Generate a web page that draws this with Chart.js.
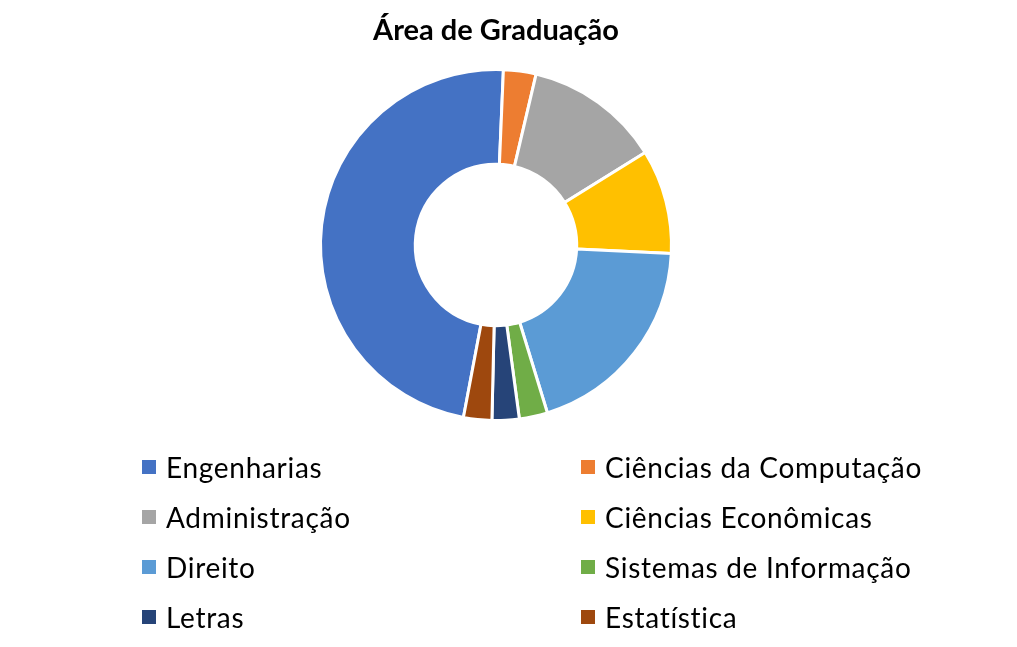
<!DOCTYPE html>
<html>
<head>
<meta charset="utf-8">
<script src="https://cdn.jsdelivr.net/npm/chart.js@4.4.1/dist/chart.umd.min.js"></script>
<style>
	html, body { margin: 0; padding: 0; background: #fff; }
	#wrap { position: relative; width: 1017px; height: 647px; }
	#grafico { position: absolute; left: 0; top: 0; }
	.item { position: absolute; height: 30px; line-height: 30px; font-family: Lato, sans-serif; font-size: 28px; letter-spacing: 0.7px; color: #000; white-space: nowrap; }
	.item span { position: absolute; top: 8px; width: 14px; height: 14px; }
	.item b { position: absolute; font-weight: normal; }
</style>
</head>
<body>
<div id="wrap">
	<canvas id="grafico" width="1017" height="647"></canvas>
</div>
<script>
var areas   = ['Engenharias', 'Ciências da Computação', 'Administração', 'Ciências Econômicas', 'Direito', 'Sistemas de Informação', 'Letras', 'Estatística'];
var valores = [47.7, 3.0, 12.5, 9.6, 19.5, 2.6, 2.5, 2.6];
var cores   = ['#4472C4', '#ED7D31', '#A5A5A5', '#FFC000', '#5B9BD5', '#70AD47', '#264478', '#9E480E'];

// legenda em duas colunas, como no Excel
var colX = [142, 581];
var linhaY = [467, 517, 567, 617];

for (var i = 0; i < areas.length; i++) {
	var d = document.createElement('div');
	d.className = 'item';
	d.style.left = colX[i % 2] + 'px';
	d.style.top = (linhaY[Math.floor(i / 2)] - 15) + 'px';
	d.innerHTML = '<span style="left:0;background:' + cores[i] + '"></span><b style="left:24px">' + areas[i] + '</b>';
	document.getElementById('wrap').appendChild(d);
}

var ctx = document.getElementById('grafico').getContext('2d');
var grafico = new Chart(ctx, {
	type: 'doughnut',
	data: {
		labels: areas,
		datasets: [{
			data: valores,
			backgroundColor: cores,
			borderColor: '#fff',
			borderWidth: 3,
			hoverOffset: 0
		}]
	},
	options: {
		responsive: false,
		animation: false,
		devicePixelRatio: 1,
		rotation: 190.7,
		cutout: '46%',
		layout: { padding: { top: 0, left: 0, right: 25, bottom: 225 } },
		plugins: {
			legend: { display: false },
			tooltip: { enabled: false },
			title: {
				display: true,
				text: 'Área de Graduação',
				color: '#000',
				font: { family: 'Lato', size: 29, weight: 'bold', lineHeight: 1.2 },
				padding: { top: 13, bottom: 20.2 }
			}
		}
	}
});
</script>
</body>
</html>
